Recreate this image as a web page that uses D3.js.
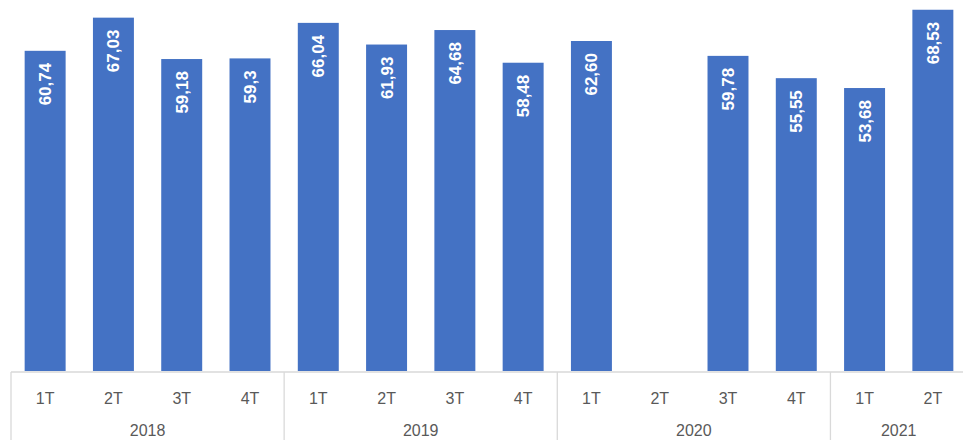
<!DOCTYPE html>
<html>
<head>
<meta charset="utf-8">
<script src="https://cdn.jsdelivr.net/npm/d3@7"></script>
<style>
  body { margin: 0; background: #fff; }
  svg { display: block; }
</style>
</head>
<body>
<div id="chart"></div>
<script>
var quarters = ["1T", "2T", "3T", "4T", "1T", "2T", "3T", "4T", "1T", "2T", "3T", "4T", "1T", "2T"];
var years = ["2018", "2018", "2018", "2018", "2019", "2019", "2019", "2019", "2020", "2020", "2020", "2020", "2021", "2021"];
var values = [60.74, 67.03, 59.18, 59.3, 66.04, 61.93, 64.68, 58.48, 62.60, null, 59.78, 55.55, 53.68, 68.53];
var labels = ["60,74", "67,03", "59,18", "59,3", "66,04", "61,93", "64,68", "58,48", "62,60", "", "59,78", "55,55", "53,68", "68,53"];
var yMax = 70;

var width = 963, height = 440;
var plotLeft = 11, plotRight = 967, baseline = 371, plotTop = 2;

var ids = d3.range(quarters.length);

var x = d3.scaleBand()
    .domain(ids)
    .range([plotLeft, plotRight])
    .paddingInner(0.4)
    .paddingOuter(0.2);

var y = d3.scaleLinear()
    .domain([0, yMax])
    .range([baseline, plotTop]);

var svg = d3.select("#chart").append("svg")
    .attr("width", width)
    .attr("height", height);

var bars = ids.filter(function(i) { return values[i] != null; });

svg.selectAll("rect.bar")
    .data(bars)
    .enter()
    .append("rect")
    .attr("class", "bar")
    .attr("x", function(i) { return x(i); })
    .attr("y", function(i) { return y(values[i]); })
    .attr("width", x.bandwidth())
    .attr("height", function(i) { return y(0) - y(values[i]); })
    .attr("fill", "#4472c4");

svg.selectAll("text.val")
    .data(bars)
    .enter()
    .append("text")
    .attr("class", "val")
    .attr("transform", function(i) {
        return "translate(" + (x(i) + x.bandwidth() / 2) + "," + (y(values[i]) + 12) + ") rotate(-90)";
    })
    .attr("text-anchor", "end")
    .attr("dy", "0.35em")
    .style("font-family", "Liberation Sans, Arial, sans-serif")
    .style("font-size", "17px")
    .style("font-weight", "bold")
    .style("fill", "#ffffff")
    .text(function(i) { return labels[i]; });

// category axis (two levels)
var step = x.step();
var axisY = baseline + 1;

svg.append("line")
    .attr("x1", plotLeft)
    .attr("x2", plotRight)
    .attr("y1", axisY)
    .attr("y2", axisY)
    .style("stroke", "#d9d9d9")
    .style("stroke-width", 1.3);

svg.selectAll("text.q")
    .data(ids)
    .enter()
    .append("text")
    .attr("class", "q")
    .attr("x", function(i) { return x(i) + x.bandwidth() / 2; })
    .attr("y", 398)
    .attr("dy", "0.35em")
    .attr("text-anchor", "middle")
    .style("font-family", "Liberation Sans, Arial, sans-serif")
    .style("font-size", "16px")
    .style("fill", "#595959")
    .text(function(i) { return quarters[i]; });

// year groups
var groups = [];
ids.forEach(function(i) {
    if (i === 0 || years[i] !== years[i - 1]) groups.push({ year: years[i], first: i, last: i });
    else groups[groups.length - 1].last = i;
});

var groupStart = function(g) { return x(g.first) - x.paddingOuter() * step; };
var groupEnd = function(g) { return x(g.last) + x.bandwidth() + x.paddingOuter() * step; };

svg.selectAll("line.div")
    .data(groups.concat([null]))
    .enter()
    .append("line")
    .attr("class", "div")
    .attr("x1", function(g) { return g ? groupStart(g) : groupEnd(groups[groups.length - 1]); })
    .attr("x2", function(g) { return g ? groupStart(g) : groupEnd(groups[groups.length - 1]); })
    .attr("y1", axisY)
    .attr("y2", height)
    .style("stroke", "#d9d9d9")
    .style("stroke-width", 1.3);

svg.selectAll("text.yr")
    .data(groups)
    .enter()
    .append("text")
    .attr("class", "yr")
    .attr("x", function(g) { return (groupStart(g) + groupEnd(g)) / 2; })
    .attr("y", 430)
    .attr("dy", "0.35em")
    .attr("text-anchor", "middle")
    .style("font-family", "Liberation Sans, Arial, sans-serif")
    .style("font-size", "16px")
    .style("fill", "#595959")
    .text(function(g) { return g.year; });
</script>
</body>
</html>
